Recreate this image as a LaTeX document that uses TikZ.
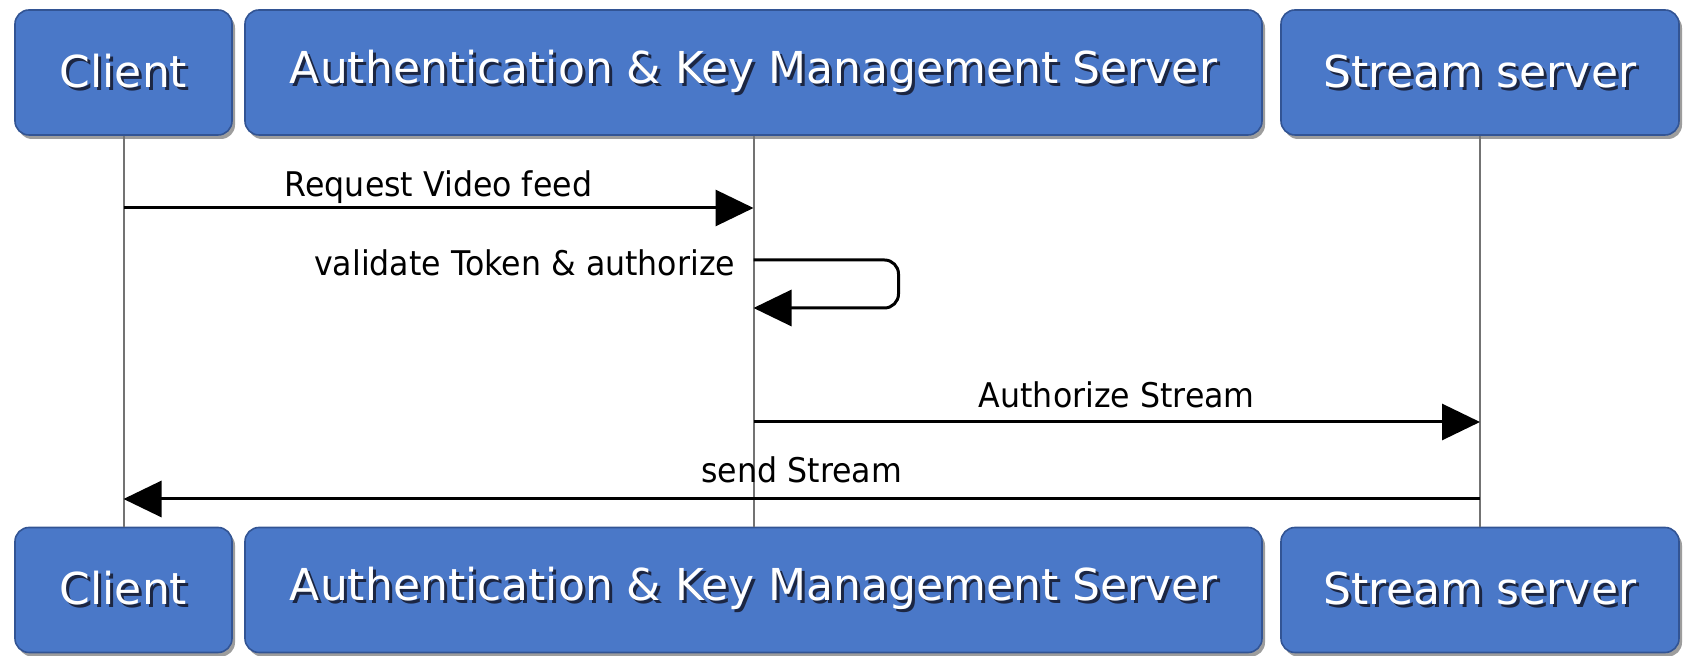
\documentclass[tikz,border=0pt]{standalone}
\usepackage{fontspec}
\setmainfont{DejaVu Sans}
\newfontfamily\msgfont{DejaVu Sans}[FakeStretch=0.93]
\usetikzlibrary{arrows.meta,shadows}
\definecolor{actorblue}{RGB}{74,120,200}
\definecolor{actorline}{RGB}{50,84,148}
\definecolor{labelshade}{RGB}{28,38,66}
\newcommand\actorlabel[1]{\makebox[0pt][l]{\raisebox{-1.5pt}{\hspace{1.5pt}\textcolor{labelshade}{#1}}}\textcolor{white}{#1}}
\begin{document}
\begin{tikzpicture}[x=0.5pt,y=-0.5pt,
  actor/.style={draw=actorline, fill=actorblue, rounded corners=7pt, line width=0.8pt,
    minimum height=62.5pt, inner sep=0pt, font=\fontsize{22}{26}\selectfont,
    drop shadow={shadow xshift=1.5pt, shadow yshift=-2pt, opacity=0.55, fill=black!70}},
  life/.style={draw=black!55, line width=1pt},
  msg/.style={draw=black, line width=1.5pt, -{Triangle[length=19pt,width=18pt]}},
  msglabel/.style={font=\msgfont\fontsize{17}{20}\selectfont, inner sep=0pt}]
\useasboundingbox (0,0) rectangle (1688,656);
\node[actor, minimum width=108.5pt] (cl) at (123.5,72.5) {\actorlabel{Client}};
\node[actor, minimum width=508.5pt] (km) at (753.5,72.5) {\actorlabel{Authentication \& Key Management Server}};
\node[actor, minimum width=199pt] (ss) at (1480,72.5) {\actorlabel{Stream server}};
\node[actor, minimum width=108.5pt] (clb) at (123.5,590) {\actorlabel{Client}};
\node[actor, minimum width=508.5pt] (kmb) at (753.5,590) {\actorlabel{Authentication \& Key Management Server}};
\node[actor, minimum width=199pt] (ssb) at (1480,590) {\actorlabel{Stream server}};
\draw[life] (cl.south) -- (clb.north);
\draw[life] (km.south) -- (kmb.north);
\draw[life] (ss.south) -- (ssb.north);
\coordinate (c1) at (cl.south |- 0,208);
\coordinate (k1) at (km.south |- 0,208);
\coordinate (k2) at (km.south |- 0,260);
\coordinate (k3) at (km.south |- 0,308);
\coordinate (k4) at (km.south |- 0,422);
\coordinate (s4) at (ss.south |- 0,422);
\coordinate (s5) at (ss.south |- 0,499);
\coordinate (c5) at (cl.south |- 0,499);
\draw[msg] (c1) -- node[msglabel, anchor=base, yshift=5.5pt] {Request Video feed} (k1);
\draw[msg, rounded corners=7pt] (k2) node[msglabel, anchor=base east, xshift=-8.5pt, yshift=-8pt] {validate Token \& authorize}
  -- ++(145,0) |- (k3);
\draw[msg] (k4) -- node[msglabel, anchor=base, yshift=7pt] {Authorize Stream} (s4);
\draw[msg] (s5) -- node[msglabel, anchor=base, yshift=8pt] {send Stream} (c5);
\end{tikzpicture}
\end{document}
